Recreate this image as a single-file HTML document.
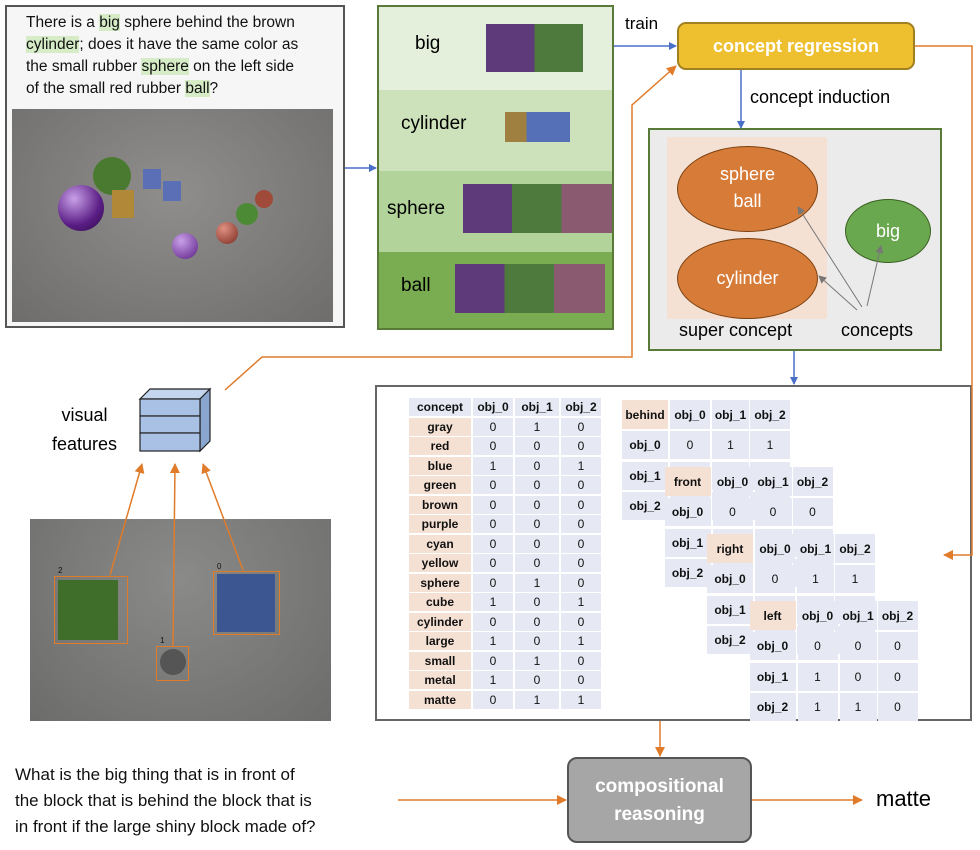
<!DOCTYPE html>
<html><head><style>
body{margin:0;width:980px;height:850px;background:#fff;position:relative;overflow:hidden;font-family:"Liberation Sans",sans-serif}
.a{position:absolute}
.c{position:absolute;background:#e6e9f3;display:flex;align-items:center;justify-content:center;font-size:12px;color:#111}
.h{background:#f5e1d4;font-weight:bold}
.hb{font-weight:bold}
.ph{position:absolute;background:#777}
</style></head><body>
<div class="a" style="left:5px;top:5px;width:340px;height:323px;border:2px solid #555;box-sizing:border-box;background:#f6f6f6"></div>
<div class="a" style="left:26px;top:12px;width:315px;font-size:15.5px;line-height:22px;color:#111;white-space:nowrap">There is a <span style="background:#d6ecc6">big</span> sphere behind the brown<br><span style="background:#d6ecc6">cylinder</span>; does it have the same color as<br>the small rubber <span style="background:#d6ecc6">sphere</span> on the left side<br>of the small red rubber <span style="background:#d6ecc6">ball</span>?</div>
<div class="a" style="left:12px;top:109px;width:321px;height:213px;background:radial-gradient(ellipse at 50% 40%,#8f8e8c,#6e6d6b)"></div>
<div class="a" style="left:58px;top:185px;width:46px;height:46px;border-radius:50%;background:radial-gradient(circle at 35% 30%,#c9a0e8,#5a1d85 60%,#2d0b45)"></div>
<div class="a" style="left:93px;top:157px;width:38px;height:38px;border-radius:50%;background:#4a7a30"></div>
<div class="a" style="left:112px;top:190px;width:22px;height:28px;background:#b08838"></div>
<div class="a" style="left:143px;top:169px;width:18px;height:20px;background:#5a6fb5"></div>
<div class="a" style="left:163px;top:181px;width:18px;height:20px;background:#5a6fb5"></div>
<div class="a" style="left:172px;top:233px;width:26px;height:26px;border-radius:50%;background:radial-gradient(circle at 35% 30%,#c9a0e8,#5a1d85)"></div>
<div class="a" style="left:216px;top:222px;width:22px;height:22px;border-radius:50%;background:radial-gradient(circle at 35% 30%,#e09080,#7a2a20)"></div>
<div class="a" style="left:236px;top:203px;width:22px;height:22px;border-radius:50%;background:#4d8a35"></div>
<div class="a" style="left:255px;top:190px;width:18px;height:18px;border-radius:50%;background:#a04a3a"></div>

<div class="a" style="left:377px;top:5px;width:237px;height:325px;border:2px solid #5a7a3a;box-sizing:border-box;overflow:hidden">
<div class="a" style="left:0;top:0;width:237px;height:83px;background:#e5f0dc"></div>
<div class="a" style="left:0;top:83px;width:237px;height:81px;background:#cde2bb"></div>
<div class="a" style="left:0;top:164px;width:237px;height:81px;background:#b2d49a"></div>
<div class="a" style="left:0;top:245px;width:237px;height:80px;background:#7aad52"></div>
</div>
<div class="a" style="left:415px;top:33px;font-size:19px">big</div>
<div class="a" style="left:401px;top:113px;font-size:19px">cylinder</div>
<div class="a" style="left:387px;top:198px;font-size:19px">sphere</div>
<div class="a" style="left:401px;top:275px;font-size:19px">ball</div>
<div class="ph" style="left:486px;top:24px;width:97px;height:48px;background:linear-gradient(90deg,#5e3a7a 50%,#4e7a3d 50%)"></div>
<div class="ph" style="left:505px;top:112px;width:65px;height:30px;background:linear-gradient(90deg,#a08040 33%,#5670b8 33%)"></div>
<div class="ph" style="left:463px;top:184px;width:149px;height:49px;background:linear-gradient(90deg,#5e3a7a 33%,#4e7a3d 33%,#4e7a3d 66%,#8a5a70 66%)"></div>
<div class="ph" style="left:455px;top:264px;width:150px;height:49px;background:linear-gradient(90deg,#5e3a7a 33%,#4e7a3d 33%,#4e7a3d 66%,#8a5a70 66%)"></div>

<div class="a" style="left:625px;top:14px;font-size:17px">train</div>
<div class="a" style="left:677px;top:22px;width:238px;height:48px;background:#eec02f;border:2px solid #a08020;border-radius:9px;box-sizing:border-box;color:#fff;font-weight:bold;font-size:18px;display:flex;align-items:center;justify-content:center">concept regression</div>
<div class="a" style="left:750px;top:87px;font-size:18px">concept induction</div>

<div class="a" style="left:648px;top:128px;width:294px;height:223px;background:#ebebeb;border:2px solid #5a7a3a;box-sizing:border-box"></div>
<div class="a" style="left:667px;top:137px;width:160px;height:182px;background:#f5e1d4"></div>
<div class="a" style="left:677px;top:146px;width:141px;height:86px;border-radius:50%;background:#d77b38;border:1.5px solid #7a4010;box-sizing:border-box;color:#fff;font-size:18px;text-align:center;line-height:27px;padding-top:14px">sphere<br>ball</div>
<div class="a" style="left:677px;top:238px;width:141px;height:81px;border-radius:50%;background:#d77b38;border:1.5px solid #7a4010;box-sizing:border-box;color:#fff;font-size:18px;display:flex;align-items:center;justify-content:center">cylinder</div>
<div class="a" style="left:845px;top:199px;width:86px;height:64px;border-radius:50%;background:#6aa84f;border:1.5px solid #3a6020;box-sizing:border-box;color:#fff;font-size:18px;display:flex;align-items:center;justify-content:center">big</div>
<div class="a" style="left:679px;top:320px;font-size:18px">super concept</div>
<div class="a" style="left:841px;top:320px;font-size:18px">concepts</div>

<div class="a" style="left:375px;top:385px;width:597px;height:336px;border:2px solid #666;box-sizing:border-box"></div>
<div id="tb"></div>

<div class="a" style="left:52px;top:401px;font-size:18px;line-height:29px;text-align:center">visual<br>features</div>
<svg class="a" style="left:130px;top:385px" width="85" height="75">
<g stroke="#222" stroke-width="1.2" fill="#a9c1e4">
<polygon points="10,14 70,14 80,4 20,4" fill="#c4d5ee"/>
<polygon points="70,14 80,4 80,56 70,66" fill="#8aa6d0"/>
<rect x="10" y="14" width="60" height="17"/><rect x="10" y="31" width="60" height="17"/><rect x="10" y="48" width="60" height="18"/>
</g></svg>

<div class="a" style="left:30px;top:519px;width:301px;height:202px;background:radial-gradient(ellipse at 50% 30%,#8a8a88,#6c6c6a)"></div>
<div class="a" style="left:58px;top:580px;width:60px;height:60px;background:#3f6e2a"></div>
<div class="a" style="left:217px;top:574px;width:58px;height:58px;background:#3b5690"></div>
<div class="a" style="left:160px;top:649px;width:26px;height:26px;border-radius:50%;background:#555"></div>
<div class="a" style="left:54px;top:576px;width:72px;height:66px;border:1.5px solid #e07b2a"></div>
<div class="a" style="left:213px;top:571px;width:65px;height:62px;border:1.5px solid #e07b2a"></div>
<div class="a" style="left:156px;top:646px;width:31px;height:33px;border:1.5px solid #e07b2a"></div>
<div class="a" style="left:58px;top:566px;font-size:8px;color:#111">2</div>
<div class="a" style="left:217px;top:562px;font-size:8px;color:#111">0</div>
<div class="a" style="left:160px;top:636px;font-size:8px;color:#111">1</div>

<div class="a" style="left:15px;top:762px;font-size:17px;line-height:26px;color:#111">What is the big thing that is in front of<br>the block that is behind the block that is<br>in front if the large shiny block made of?</div>
<div class="a" style="left:567px;top:757px;width:185px;height:86px;background:#a6a6a6;border:2px solid #555;border-radius:10px;box-sizing:border-box;color:#fff;font-weight:bold;font-size:19px;text-align:center;line-height:28px;padding-top:14px">compositional<br>reasoning</div>
<div class="a" style="left:876px;top:786px;font-size:22px">matte</div>

<svg class="a" style="left:0;top:0" width="980" height="850">
<defs>
<marker id="b" markerWidth="8" markerHeight="8" refX="7" refY="4" orient="auto" markerUnits="userSpaceOnUse"><path d="M0,0L8,4L0,8z" fill="#4a6fc8"/></marker>
<marker id="o" markerWidth="10" markerHeight="10" refX="9" refY="5" orient="auto" markerUnits="userSpaceOnUse"><path d="M0,0L10,5L0,10z" fill="#e07b2a"/></marker>
<marker id="g" markerWidth="8" markerHeight="8" refX="7" refY="4" orient="auto" markerUnits="userSpaceOnUse"><path d="M0,0L8,4L0,8z" fill="#777"/></marker>
</defs>
<g fill="none" stroke="#4a6fc8" stroke-width="1.5">
<line x1="345" y1="168" x2="376" y2="168" marker-end="url(#b)"/>
<line x1="614" y1="46" x2="676" y2="46" marker-end="url(#b)"/>
<line x1="741" y1="70" x2="741" y2="128" marker-end="url(#b)"/>
<line x1="794" y1="351" x2="794" y2="384" marker-end="url(#b)"/>
</g>
<g fill="none" stroke="#e07b2a" stroke-width="1.5">
<polyline points="225,390 262,357 632,357 632,105 676,66" marker-end="url(#o)"/>
<polyline points="915,46 972,46 972,555 944,555" marker-end="url(#o)"/>
<line x1="110" y1="575" x2="142" y2="464" marker-end="url(#o)"/>
<line x1="173" y1="646" x2="175" y2="464" marker-end="url(#o)"/>
<line x1="243" y1="570" x2="203" y2="464" marker-end="url(#o)"/>
<line x1="660" y1="721" x2="660" y2="756" marker-end="url(#o)"/>
<line x1="398" y1="800" x2="566" y2="800" marker-end="url(#o)"/>
<line x1="752" y1="800" x2="862" y2="800" marker-end="url(#o)"/>
</g>
<g stroke="#777" stroke-width="1">
<line x1="867" y1="306" x2="881" y2="246" marker-end="url(#g)"/>
<line x1="862" y1="307" x2="798" y2="207" marker-end="url(#g)"/>
<line x1="857" y1="310" x2="819" y2="276" marker-end="url(#g)"/>
</g>
</svg>

<script>
var tb=document.getElementById('tb'),h='';
function cell(x,y,w,ht,txt,cls){h+='<div class="c '+(cls||'')+'" style="left:'+x+'px;top:'+y+'px;width:'+w+'px;height:'+ht+'px">'+txt+'</div>';}
var rows=[['concept','obj_0','obj_1','obj_2'],['gray',0,1,0],['red',0,0,0],['blue',1,0,1],['green',0,0,0],['brown',0,0,0],['purple',0,0,0],['cyan',0,0,0],['yellow',0,0,0],['sphere',0,1,0],['cube',1,0,1],['cylinder',0,0,0],['large',1,0,1],['small',0,1,0],['metal',1,0,0],['matte',0,1,1]];
var cx=[409,473,515,561],cw=[62,40,44,40];
rows.forEach(function(r,i){var y=398+i*19.5;r.forEach(function(v,j){var c=i==0?'hb':(j==0?'h':'');cell(cx[j],y,cw[j],18,v,c);});});
var mats=[['behind',[[0,1,1],[0,0,0],[0,0,0]]],['front',[[0,0,0],[1,0,1],[0,0,0]]],['right',[[0,1,1],[0,0,1],[0,0,0]]],['left',[[0,0,0],[1,0,0],[1,1,0]]]];
mats.forEach(function(m,k){var x0=622+k*42.5,y0=400+k*67;var xs=[0,48,90,128],ws=[46,40,37,40];
cell(x0,y0,ws[0],29,m[0],'h');for(var j=1;j<4;j++)cell(x0+xs[j],y0,ws[j],29,'obj_'+(j-1),'hb');
for(var i=0;i<3;i++){var y=y0+31+i*30.5;cell(x0,y,ws[0],28,'obj_'+i,'hb');for(var j=1;j<4;j++)cell(x0+xs[j],y,ws[j],28,m[1][i][j-1]);}});
tb.innerHTML=h;
</script>
</body></html>
